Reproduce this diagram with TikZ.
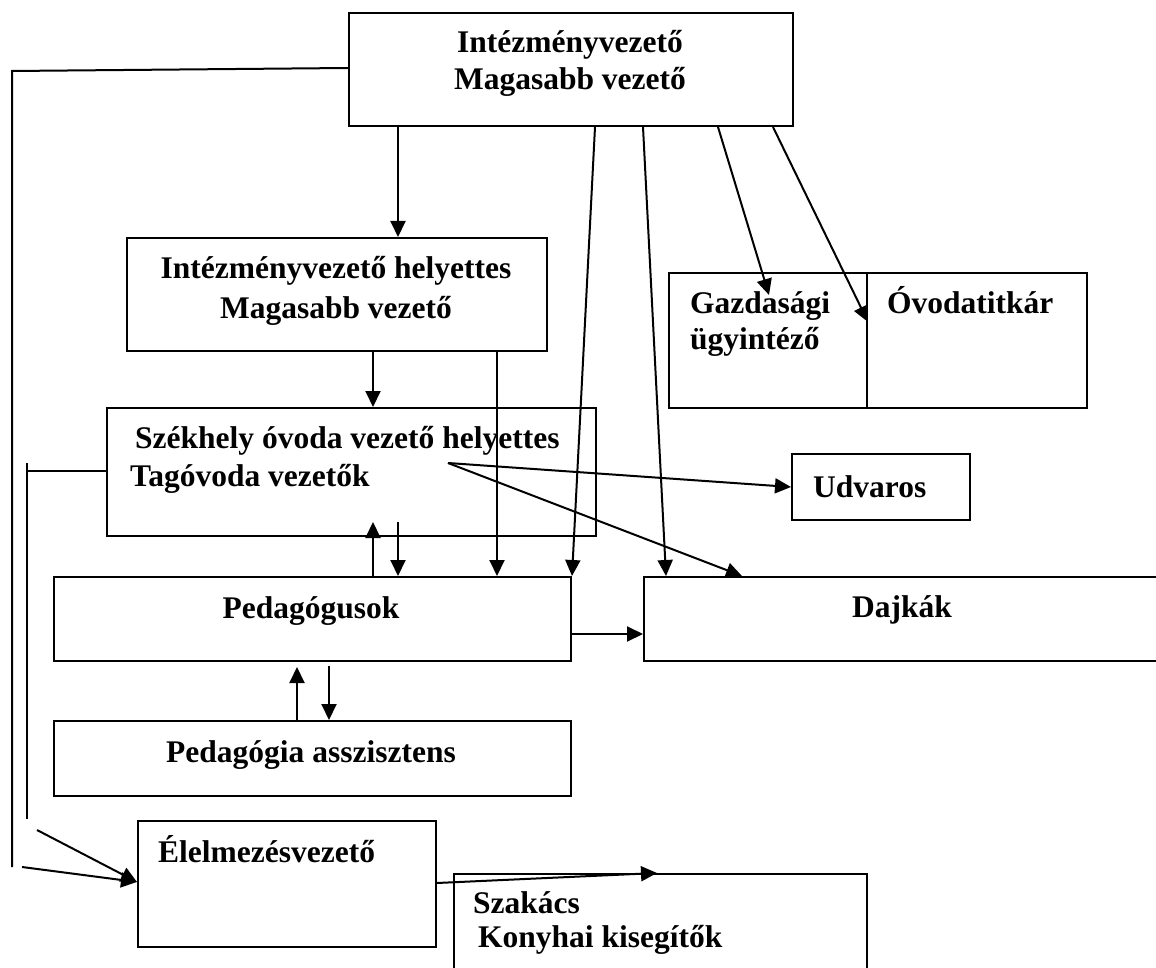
\documentclass[tikz,border=0pt]{standalone}
\usepackage{fontspec}
\setmainfont{Liberation Serif}
\usetikzlibrary{arrows.meta,calc}
\begin{document}
\begin{tikzpicture}[x=1pt,y=-1pt,
  box/.style={draw, line width=2pt, rectangle, inner sep=0pt, anchor=north west},
  lbl/.style={inner sep=0pt, font=\fontsize{31.5}{36}\selectfont\bfseries},
  arr/.style={line width=2pt, -{Triangle[length=16pt,width=15pt]}},
  ln/.style={line width=2pt}]
\useasboundingbox (0,0) rectangle (1156,968);
\clip (0,0) rectangle (1156,968);

% boxes
\node[box, minimum width=444pt, minimum height=113pt] (A) at (348,12) {};
\node[box, minimum width=420pt, minimum height=113pt] (B) at (126,237) {};
\node[box, minimum width=489pt, minimum height=128pt] (C) at (106,407) {};
\node[box, minimum width=517pt, minimum height=84pt] (D) at (53,576) {};
\node[box, minimum width=518pt, minimum height=84pt] (E) at (643,576) {};
\node[box, minimum width=198pt, minimum height=135pt] (F) at (668,272) {};
\node[box, minimum width=220pt, minimum height=135pt] (G) at (866,272) {};
\node[box, minimum width=178pt, minimum height=66pt] (U) at (791,453) {};
\node[box, minimum width=517pt, minimum height=75pt] (P) at (53,720) {};
\node[box, minimum width=298pt, minimum height=126pt] (H) at (137,820) {};
\node[box, minimum width=413pt, minimum height=130pt] (I) at (453,873) {};

% texts
\node[lbl, anchor=base] (tA1) at (570,53) {Intézményvezető};
\node[lbl, anchor=base] (tA2) at (570,90) {Magasabb vezető};
\node[lbl, anchor=base] (tB1) at (336,279) {Intézményvezető helyettes};
\node[lbl, anchor=base] (tB2) at (336,318) {Magasabb vezető};
\node[lbl, anchor=base west] (tC1) at (135,448) {Székhely óvoda vezető helyettes};
\node[lbl, anchor=base west] (tC2) at (130,486) {Tagóvoda vezetők};
\node[lbl, anchor=base] (tD) at (311,618) {Pedagógusok};
\node[lbl, anchor=base] (tE) at (902,617) {Dajkák};
\node[lbl, anchor=base west] (tF1) at (690,313) {Gazdasági};
\node[lbl, anchor=base west] (tF2) at (690,349) {ügyintéző};
\node[lbl, anchor=base west] (tG) at (887,313) {Óvodatitkár};
\node[lbl, anchor=base west] (tU) at (813,497) {Udvaros};
\node[lbl, anchor=base] (tP) at (311,762) {Pedagógia asszisztens};
\node[lbl, anchor=base west] (tH) at (158,862) {Élelmezésvezető};
\node[lbl, anchor=base west] (tI1) at (473,913) {Szakács};
\node[lbl, anchor=base west] (tI2) at (478,947) {Konyhai kisegítők};

% helper coordinates
\coordinate (ct) at ($(C.north west)+(342,56)$);
\coordinate (fin) at ($(H.north west)+(0,62)$);

% arrows
\draw[arr] ($(A.south west)+(50,0)$) -- ($(B.north west)+(272,0)$);
\draw[arr] ($(A.south west)+(247,0)$) -- (D.north east);
\draw[arr] ($(A.south west)+(295,0)$) -- ($(E.north west)+(23,0)$);
\draw[arr] ($(A.south west)+(370,0)$) -- ($(F.north west)+(101,23)$);
\draw[arr] ($(A.south west)+(425,0)$) -- ($(F.north east)+(0,50)$);
\draw[arr] ($(B.south west)+(247,0)$) -- ($(C.north west)+(267,0)$);
\draw[arr] ($(B.south west)+(371,0)$) -- ($(D.north west)+(444,0)$);
\draw[arr] ($(D.north west)+(320,0)$) -- ($(C.south west)+(267,-15)$);
\draw[arr] ($(C.south west)+(292,-15)$) -- ($(D.north west)+(345,0)$);
\draw[arr] (ct) -- (U.west);
\draw[arr] (ct) -- ($(E.north west)+(99,0)$);
\draw[arr] ($(D.south east)+(0,-28)$) -- ($(E.south west)+(0,-28)$);
\draw[arr] ($(P.north west)+(244,0)$) -- ($(D.south west)+(244,5)$);
\draw[arr] ($(D.south west)+(276,4)$) -- ($(P.north west)+(276,0)$);
\draw[arr] ($(H.north east)+(0,63)$) -- ($(I.north west)+(204,0)$);
\draw[arr] ($(H.north west)+(-100,10)$) -- (fin);
\draw[arr] ($(H.north west)+(-115,47)$) -- (fin);

% plain lines
\draw[ln] ($(A.north west)+(0,56)$) -- ++(-336,3) -- ++(0,796);
\draw[ln] ($(C.north west)+(0,64)$) -- ++(-79,0);
\draw[ln] ($(C.north west)+(-79,56)$) -- ++(0,356);
\end{tikzpicture}
\end{document}
